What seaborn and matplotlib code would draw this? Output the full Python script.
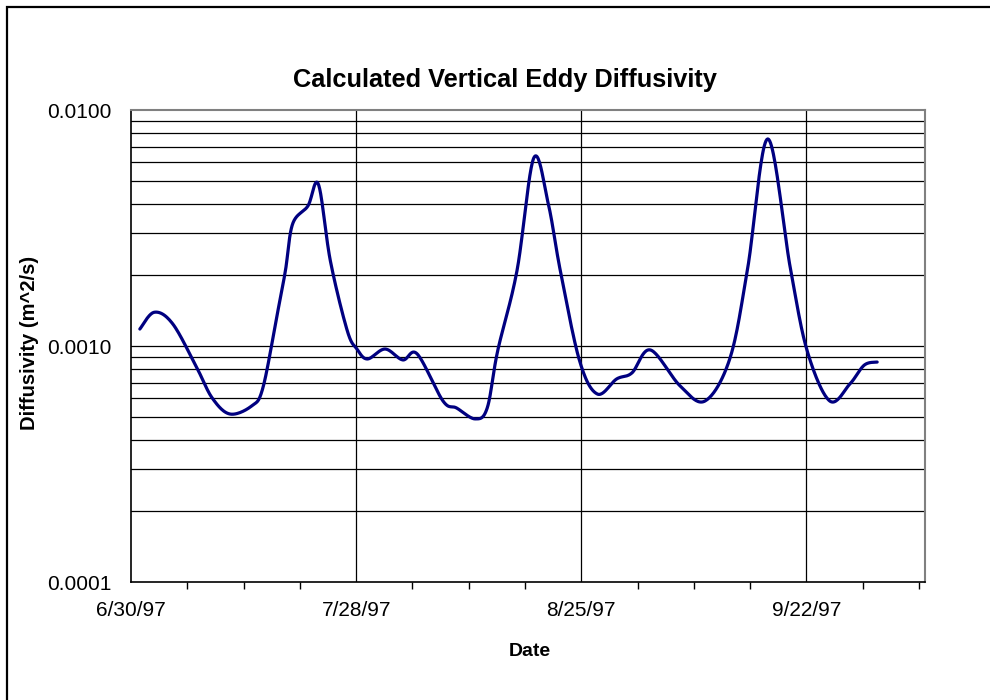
import numpy as np
import pandas as pd
import matplotlib
matplotlib.use("Agg")
import matplotlib.pyplot as plt
import matplotlib.ticker as mticker
import matplotlib.dates as mdates
from matplotlib.patches import Rectangle
import seaborn as sns

# Measured eddy diffusivity, summer 1997 (days after 6/30/97, m^2/s)
start_date = "1997-06-30"
days_since_start = [1.1, 2.9, 5.2, 8.2, 10.1, 12.3, 15.0, 16.4, 18.2, 19.2,
                    20.1, 22.0, 23.3, 24.8, 26.9, 28.1, 29.4, 31.6, 33.8, 35.6,
                    38.8, 40.5, 42.8, 44.3, 45.6, 48.0, 50.1, 51.9, 53.4, 55.8,
                    58.0, 60.4, 62.3, 64.6, 68.3, 71.4, 74.5, 76.7, 79.2, 82.0,
                    84.1, 86.9, 89.4, 91.2, 92.8]
diffusivity = [0.00118, 0.00139, 0.00124, 0.000807, 0.000602, 0.000515, 0.000557,
               0.000664, 0.00137, 0.00208, 0.00329, 0.00392, 0.00485, 0.00229,
               0.00116, 0.000971, 0.000881, 0.000971, 0.000873, 0.000925,
               0.000585, 0.000546, 0.000491, 0.000546, 0.000953, 0.00208,
               0.00627, 0.00400, 0.00208, 0.000863, 0.000626, 0.000725,
               0.000769, 0.000962, 0.000677, 0.000585, 0.000889, 0.00214,
               0.00754, 0.00214, 0.000953, 0.000585, 0.000690, 0.000830,
               0.000855]
date_ticks = ["1997-06-30", "1997-07-28", "1997-08-25", "1997-09-22"]
y_ticks = [0.0001, 0.001, 0.01]


def smooth_curve(x, y, n=24):
    """Bezier smoothing through every point (spreadsheet-style smoothed line)."""
    p = np.column_stack([x, y])
    out = []
    for i in range(len(p) - 1):
        p0 = p[i - 1] if i > 0 else p[i]
        p1, p2 = p[i], p[i + 1]
        p3 = p[i + 2] if i + 2 < len(p) else p[i + 1]
        c1 = p1 + (p2 - p0) / 6.0
        c2 = p2 - (p3 - p1) / 6.0
        t = np.linspace(0, 1, n, endpoint=(i == len(p) - 2))[:, None]
        seg = ((1 - t) ** 3) * p1 + 3 * ((1 - t) ** 2) * t * c1 \
            + 3 * (1 - t) * t ** 2 * c2 + t ** 3 * p2
        out.append(seg)
    out = np.vstack(out)
    return out[:, 0], out[:, 1]


sx, sy = smooth_curve(np.array(days_since_start, float), np.log10(diffusivity))
t0 = pd.Timestamp(start_date)
curve = pd.DataFrame({
    "Date": t0 + pd.to_timedelta(sx, unit="D"),
    "Diffusivity": 10 ** sy,
})

sns.set_theme(style="white")
plt.rcParams["font.family"] = ["Liberation Sans", "DejaVu Sans"]
plt.rcParams["text.color"] = "black"
plt.rcParams["axes.labelcolor"] = "black"

fig = plt.figure(figsize=(9.9, 7.0), dpi=100)
W, H = 990, 700
ax = fig.add_axes([131 / W, 1 - 582 / H, (925 - 131) / W, (582 - 110) / H])

# chart-area frame
fig.patches.append(Rectangle((7 / W, -0.05), 1.2, 1 - 7 / H + 0.05,
                             transform=fig.transFigure, fill=False,
                             edgecolor="black", linewidth=1.6, zorder=0))

sns.lineplot(data=curve, x="Date", y="Diffusivity", ax=ax, sort=False,
             estimator=None, color="#000080", linewidth=2.3, zorder=5)

ax.set_yscale("log")
ax.set_ylim(1e-4, 1e-2)
ax.set_xlim(t0, pd.Timestamp("1997-10-06") + pd.Timedelta(hours=18))

# gridlines: every 1..9 x 10^k horizontally, major dates vertically
for dec in (1e-4, 1e-3):
    for k in range(2, 10):
        ax.axhline(k * dec, color="black", linewidth=0.9, zorder=1)
ax.axhline(1e-3, color="black", linewidth=0.9, zorder=1)
major_dates = pd.to_datetime(date_ticks)
for d in major_dates[1:]:
    ax.axvline(d, color="black", linewidth=0.9, zorder=1)

ax.set_xticks(major_dates)
ax.xaxis.set_major_formatter(mticker.FuncFormatter(
    lambda v, pos: (lambda d: f"{d.month}/{d.day}/{d.strftime('%y')}")(mdates.num2date(v))))
ax.set_xticks(pd.date_range(start_date, "1997-10-06", freq="7D"), minor=True)
ax.set_yticks(y_ticks)
ax.yaxis.set_major_formatter(mticker.FuncFormatter(lambda v, pos: f"{v:.4f}"))
ax.yaxis.set_minor_locator(mticker.NullLocator())

ax.tick_params(axis="both", which="major", direction="inout", length=8, width=1,
               color="black", labelsize=15, labelcolor="black")
ax.tick_params(axis="x", which="major", pad=10)
ax.tick_params(axis="y", which="major", pad=10)
ax.tick_params(axis="x", which="minor", direction="out", length=5, width=1,
               color="black", bottom=True)

for side in ("left", "bottom"):
    ax.spines[side].set_color("black")
    ax.spines[side].set_linewidth(1.2)
for side in ("top", "right"):
    ax.spines[side].set_color("#808080")
    ax.spines[side].set_linewidth(1.5)

ax.set_xlabel("")
ax.set_ylabel("")
fig.text(505 / W, 1 - 80 / H, "Calculated Vertical Eddy Diffusivity",
         ha="center", va="center", fontsize=18.3, fontweight="bold")
fig.text(530 / W, 1 - 651 / H, "Date", ha="center", va="center",
         fontsize=14, fontweight="bold")
fig.text(30 / W, 1 - 343 / H, "Diffusivity (m^2/s)", ha="center", va="center",
         rotation=90, fontsize=14.5, fontweight="bold")

fig.savefig("out.png", dpi=100)
